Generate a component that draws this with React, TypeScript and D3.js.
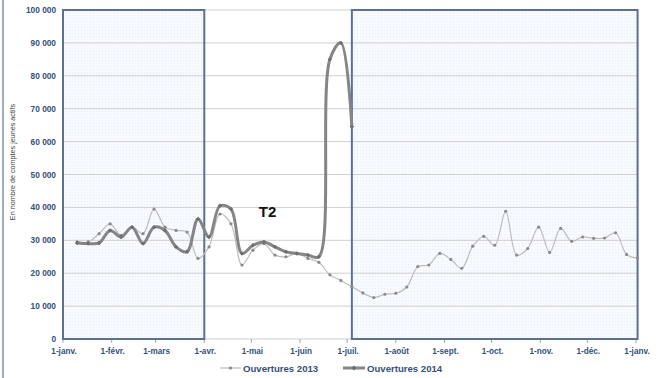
import React from "react";
import * as d3 from "d3";

// ---- data ----
const firstWeek = new Date(2013, 0, 10);
const values2013 = [
  29500, 29500, 32000, 35000, 31500, 34000, 32000, 39500, 34000, 33000, 32500, 24500,
  28000, 38000, 35000, 22500, 27000, 29000, 25500, 25000, 26000, 24500, 23300, 19500,
  17800, 15900, 14000, 12600, 13600, 13900, 15800, 22000, 22500, 26000, 24200, 21500,
  28200, 31200, 28500, 38800, 25500, 27500, 34000, 26300, 33600, 29700, 31000, 30600,
  30700, 32300, 25700, 24600,
];
const values2014 = [
  29200, 29000, 29200, 33000, 31000, 34000, 29000, 34000, 33000, 28000, 26500, 36500,
  31000, 40500, 39500, 26000, 28500, 29500, 28000, 26500, 26000, 25500, 25000, 85000,
  90000, 64500,
];
const seriesNames = ["Ouvertures 2013", "Ouvertures 2014"];
const yTicks = [0, 10000, 20000, 30000, 40000, 50000, 60000, 70000, 80000, 90000, 100000];
const xTickLabels = [
  "1-janv.", "1-févr.", "1-mars", "1-avr.", "1-mai", "1-juin", "1-juil.",
  "1-août", "1-sept.", "1-oct.", "1-nov.", "1-déc.", "1-janv.",
];
const highlightRanges: [Date, Date][] = [
  [new Date(2013, 0, 1), new Date(2013, 3, 1)],
  [new Date(2013, 6, 4), new Date(2014, 0, 2)],
];
const quarterLabel = { text: "T2", date: new Date(2013, 4, 10), value: 38000 };
const yTitle = "En nombre de comptes jeunes actifs";

const W = 663;
const H = 378;

export default function App() {
  const x = d3
    .scaleTime()
    .domain([new Date(2013, 0, 1), new Date(2014, 0, 1)])
    .range([63, 636]);
  const y = d3.scaleLinear().domain([0, 100000]).range([339, 10]);

  const pts13 = values2013.map((v, i) => ({ d: d3.timeDay.offset(firstWeek, 7 * i), v }));
  const pts14 = values2014.map((v, i) => ({ d: d3.timeDay.offset(firstWeek, 7 * i), v }));

  const line = d3
    .line<{ d: Date; v: number }>()
    .x((p) => x(p.d))
    .y((p) => y(p.v))
    .curve(d3.curveCatmullRom.alpha(0.5));

  const monthTicks = d3.timeMonth.range(new Date(2013, 0, 1), new Date(2014, 0, 2));
  const axisColor = "#34507c";
  const font = "'Liberation Sans', Arial, sans-serif";

  const diamond = (cx: number, cy: number, r: number) =>
    `M${cx},${cy - r}L${cx + r},${cy}L${cx},${cy + r}L${cx - r},${cy}Z`;

  return (
    <svg
      width={W}
      height={H}
      style={{ position: "absolute", left: 0, top: 0, background: "#fff" }}
      fontFamily={font}
    >
      <defs>
        <pattern id="dots" width="3" height="3" patternUnits="userSpaceOnUse">
          <rect width="3" height="3" fill="#f7fafe" />
          <rect width="1" height="1" fill="#e7eef7" />
        </pattern>
      </defs>

      {/* outer frame left edge */}
      <line x1={3} x2={3} y1={0} y2={H} stroke="#7f93b3" strokeWidth={1.5} />

      {/* highlight boxes fill */}
      {highlightRanges.map((r, i) => (
        <rect
          key={"hb" + i}
          x={x(r[0])}
          y={y(100000)}
          width={x(r[1]) - x(r[0])}
          height={y(0) - y(100000)}
          fill="url(#dots)"
        />
      ))}

      {/* gridlines */}
      {yTicks.map((t) => (
        <line
          key={"g" + t}
          x1={x(new Date(2013, 0, 1))}
          x2={x(new Date(2014, 0, 2))}
          y1={y(t)}
          y2={y(t)}
          stroke="#cfcfcf"
          strokeWidth={1}
        />
      ))}

      {/* x axis ticks */}
      {monthTicks.map((m, i) => (
        <line
          key={"xt" + i}
          x1={x(m)}
          x2={x(m)}
          y1={y(0)}
          y2={y(0) + 4}
          stroke="#9aa8bd"
          strokeWidth={1}
        />
      ))}

      {/* highlight box borders */}
      {highlightRanges.map((r, i) => (
        <rect
          key={"hbb" + i}
          x={x(r[0])}
          y={y(100000)}
          width={x(r[1]) - x(r[0])}
          height={y(0) - y(100000)}
          fill="none"
          stroke="#5d7090"
          strokeWidth={2}
        />
      ))}

      {/* y tick labels */}
      {yTicks.map((t) => (
        <text
          key={"yl" + t}
          x={56}
          y={y(t) + 3}
          textAnchor="end"
          fontSize={8.3}
          fontWeight="bold"
          fill={axisColor}
        >
          {t === 0 ? "0" : d3.format(",")(t).replace(/,/g, " ")}
        </text>
      ))}

      {/* x tick labels */}
      {monthTicks.map((m, i) => (
        <text
          key={"xl" + i}
          x={x(m) + 1}
          y={354}
          textAnchor="middle"
          fontSize={8.2}
          fontWeight="bold"
          fill={axisColor}
        >
          {xTickLabels[i]}
        </text>
      ))}

      {/* y title */}
      <text
        transform={`translate(15,${162}) rotate(-90)`}
        textAnchor="middle"
        fontSize={7.2}
        fill="#444"
      >
        {yTitle}
      </text>

      {/* 2013 series */}
      <path d={line(pts13) || ""} fill="none" stroke="#bdbdbd" strokeWidth={1.2} />
      {pts13.map((p, i) => (
        <circle key={"m13" + i} cx={x(p.d)} cy={y(p.v)} r={1.6} fill="#8a8a8a" />
      ))}

      {/* 2014 series */}
      <path d={line(pts14) || ""} fill="none" stroke="#858585" strokeWidth={3} strokeLinejoin="round" />
      {pts14.map((p, i) => (
        <path key={"m14" + i} d={diamond(x(p.d), y(p.v), 2.2)} fill="#6f6f6f" />
      ))}

      {/* T2 label */}
      <text
        x={x(quarterLabel.date) + 2}
        y={y(quarterLabel.value) + 3}
        textAnchor="middle"
        fontSize={15}
        fontWeight="bold"
        fill="#111"
        fontFamily="'Liberation Sans', Arial, sans-serif"
      >
        {quarterLabel.text}
      </text>

      {/* legend */}
      <g>
        <line x1={220} x2={241} y1={368} y2={368} stroke="#bdbdbd" strokeWidth={1.2} />
        <circle cx={230.5} cy={368} r={1.6} fill="#8a8a8a" />
        <text x={243} y={371.5} fontSize={9.6} fill={axisColor} fontWeight="bold">
          {seriesNames[0]}
        </text>
        <line x1={343} x2={365} y1={368} y2={368} stroke="#858585" strokeWidth={3} />
        <path d={diamond(354, 368, 2.4)} fill="#6f6f6f" />
        <text x={367} y={371.5} fontSize={9.6} fill={axisColor} fontWeight="bold">
          {seriesNames[1]}
        </text>
      </g>
    </svg>
  );
}
